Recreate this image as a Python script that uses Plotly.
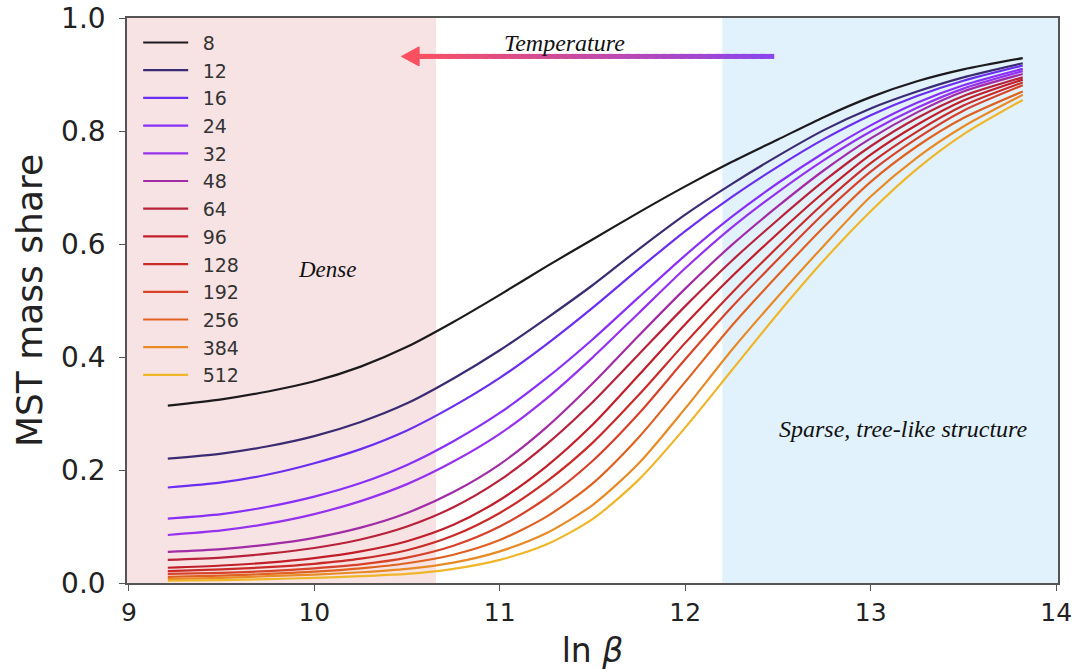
import plotly.graph_objects as go

# x positions (ln beta) where curve values were read
ln_beta = [9.21, 9.5, 9.75, 10.0, 10.25, 10.5, 10.75, 11.0, 11.25, 11.5,
           11.75, 12.0, 12.25, 12.5, 12.75, 13.0, 13.25, 13.5, 13.82]

temperatures = ["8", "12", "16", "24", "32", "48", "64", "96", "128", "192", "256", "384", "512"]

share_8   = [.314, .325, .339, .357, .383, .418, .462, .510, .560, .608, .656, .702, .745, .785, .825, .860, .888, .909, .929]
share_12  = [.220, .229, .242, .260, .285, .318, .362, .412, .468, .527, .591, .652, .706, .756, .802, .840, .870, .895, .920]
share_16  = [.169, .178, .192, .212, .237, .270, .313, .363, .422, .487, .556, .623, .683, .737, .786, .828, .862, .889, .916]
share_24  = [.114, .122, .135, .153, .177, .209, .251, .301, .362, .431, .506, .580, .648, .708, .762, .810, .850, .881, .910]
share_32  = [.085, .093, .105, .122, .145, .175, .215, .264, .326, .399, .478, .557, .629, .692, .749, .799, .841, .875, .906]
share_48  = [.055, .060, .068, .080, .098, .124, .161, .210, .275, .353, .438, .521, .598, .667, .731, .787, .833, .870, .901]
share_64  = [.041, .045, .052, .062, .077, .100, .134, .182, .245, .320, .405, .490, .570, .643, .712, .773, .823, .862, .895]
share_96  = [.027, .031, .036, .044, .056, .074, .103, .147, .206, .280, .368, .458, .542, .619, .692, .758, .811, .854, .891]
share_128 = [.021, .024, .028, .034, .043, .058, .084, .124, .179, .248, .333, .425, .513, .595, .673, .743, .799, .845, .886]
share_192 = [.016, .018, .021, .026, .033, .045, .066, .100, .150, .216, .300, .396, .488, .573, .655, .728, .787, .836, .881]
share_256 = [.011, .013, .016, .020, .026, .035, .050, .076, .117, .176, .258, .356, .455, .545, .631, .710, .773, .823, .870]
share_384 = [.007, .009, .012, .015, .019, .025, .036, .056, .088, .138, .212, .309, .412, .507, .598, .684, .753, .808, .864]
share_512 = [.004, .005, .007, .009, .012, .016, .025, .041, .068, .113, .183, .275, .376, .477, .572, .658, .733, .794, .855]

series = [share_8, share_12, share_16, share_24, share_32, share_48, share_64,
          share_96, share_128, share_192, share_256, share_384, share_512]

colors = ["#1c1a1c", "#3b2b72", "#6a2ef0", "#8830f8", "#9632ee", "#a22ca6",
          "#b8223a", "#c11e2a", "#c92c28", "#d6432a", "#df6222", "#e88a26", "#f0b62a"]

# regions and annotation positions
dense_end = 10.656
sparse_start = 12.2
x_min, x_max = 8.99, 14.01

fig = go.Figure()

for name, vals, col in zip(temperatures, series, colors):
    fig.add_trace(go.Scatter(x=ln_beta, y=vals, mode="lines", name="\u2002" + name,
                             line=dict(color=col, width=2.2, shape="spline", smoothing=0.75)))

# shaded regions
fig.add_shape(type="rect", xref="x", yref="paper", x0=x_min, x1=dense_end, y0=0, y1=1,
              fillcolor="#f8e3e4", line_width=0, layer="below")
fig.add_shape(type="rect", xref="x", yref="paper", x0=sparse_start, x1=x_max, y0=0, y1=1,
              fillcolor="#e1f2fc", line_width=0, layer="below")

# gradient arrow (Temperature)
arrow_y = 0.932
tail_x, head_x = 12.48, 10.47
shaft_end = 10.55
n = 40
c0 = (138, 68, 240)   # purple tail
c1 = (250, 80, 96)    # red head
seg = (tail_x - shaft_end) / n
for i in range(n):
    t0 = i / n
    t1 = (i + 1) / n
    xa = tail_x - seg * i
    xb = max(shaft_end, tail_x - seg * (i + 1.6))
    tm = (t0 + t1) / 2
    c = tuple(int(round(c0[k] + (c1[k] - c0[k]) * tm)) for k in range(3))
    fig.add_shape(type="line", xref="x", yref="y", x0=xa, x1=xb, y0=arrow_y, y1=arrow_y,
                  line=dict(color="rgb(%d,%d,%d)" % c, width=5))
fig.add_shape(type="path", xref="x", yref="y",
              path=f"M {head_x},{arrow_y} L 10.565,{arrow_y + 0.017} L 10.565,{arrow_y - 0.017} Z",
              fillcolor="rgb(250,80,96)", line=dict(color="rgb(250,80,96)", width=1))

serif = "Liberation Serif"
fig.add_annotation(x=11.35, y=0.955, xref="x", yref="y", text="<i>Temperature</i>",
                   showarrow=False, font=dict(family=serif, size=24, color="#111"))
fig.add_annotation(x=10.07, y=0.555, xref="x", yref="y", text="<i>Dense</i>",
                   showarrow=False, font=dict(family=serif, size=23, color="#111"))
fig.add_annotation(x=13.175, y=0.273, xref="x", yref="y", text="<i>Sparse, tree-like structure</i>",
                   showarrow=False, font=dict(family=serif, size=24, color="#111"))

font = "DejaVu Sans"
fig.update_layout(
    width=1074, height=670,
    margin=dict(l=127, r=16, t=18, b=87, autoexpand=False),
    paper_bgcolor="white", plot_bgcolor="white",
    font=dict(family=font, color="#222"),
    showlegend=True,
    legend=dict(x=0.012, y=0.99, xanchor="left", yanchor="top",
                bgcolor="rgba(0,0,0,0)", borderwidth=0,
                font=dict(family=font, size=19, color="#333"),
                itemwidth=45, tracegroupgap=0),
    xaxis=dict(range=[x_min, x_max], tickvals=[9, 10, 11, 12, 13, 14], automargin=False,
               showgrid=False, zeroline=False, showline=True, linecolor="#555", linewidth=1.5,
               mirror=True, ticks="outside", ticklen=6, tickcolor="#555",
               tickfont=dict(family=font, size=25, color="#222"),
               title=dict(text="ln <i>β</i>", font=dict(family=font, size=33, color="#222"), standoff=14)),
    yaxis=dict(range=[0, 1.0], tickvals=[0, 0.2, 0.4, 0.6, 0.8, 1.0], automargin=False,
               ticktext=["0.0", "0.2", "0.4", "0.6", "0.8", "1.0"],
               showgrid=False, zeroline=False, showline=True, linecolor="#555", linewidth=1.5,
               mirror=True, ticks="outside", ticklen=6, tickcolor="#555",
               tickfont=dict(family=font, size=28, color="#222"), ticklabelstandoff=8,
               title=dict(text="MST mass share", font=dict(family=font, size=36, color="#222"), standoff=8)),
)

fig.write_html("out.html")
